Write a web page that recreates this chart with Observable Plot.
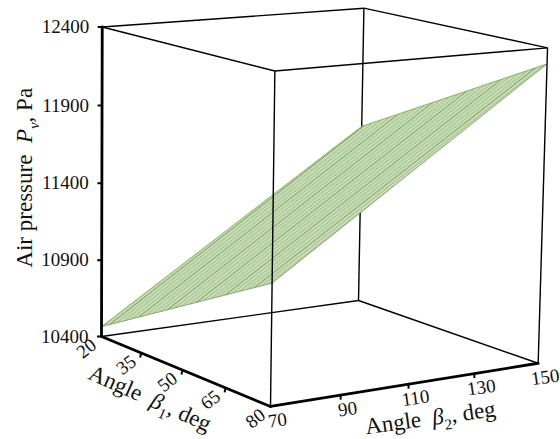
<!DOCTYPE html>
<html>
<head>
<meta charset="utf-8">
<script src="https://cdn.jsdelivr.net/npm/d3@7"></script>
<script src="https://cdn.jsdelivr.net/npm/@observablehq/plot@0.6"></script>
<style>
  html, body { margin: 0; padding: 0; background: #fff; }
  #chart svg { display: block; background: #fff; font-family: "Liberation Serif", "Times New Roman", serif; }
  #chart svg text { font-family: "Liberation Serif", "Times New Roman", serif; }
</style>
</head>
<body>
<div id="chart"></div>
<script>
// ---------------- data ----------------
const beta1Ticks = [20, 35, 50, 65, 80];          // Angle β1, deg
const beta2Ticks = [70, 90, 110, 130, 150];       // Angle β2, deg
const pressureTicks = [10400, 10900, 11400, 11900, 12400]; // Air pressure Pv, Pa

// fitted surface: pressure at the four corners of the (β1, β2) domain
const surfaceBeta1 = [20, 80, 80, 20];
const surfaceBeta2 = [70, 70, 150, 150];
const surfacePressure = [10465, 11145, 12300, 11600];

const yTitleParts = [["Air pressure  ", ""], ["P", "i"], ["v", "isub"], [", Pa", ""]];
const b1TitleParts = [["Angle  ", ""], ["β", "i"], ["1", "sub"], [", deg", ""]];
const b2TitleParts = [["Angle  ", ""], ["β", "i"], ["2", "sub"], [", deg", ""]];

// ---------------- perspective camera ----------------
const W = 560, H = 439;
const cam = {
  o: [101, 336], ex: [147.4, 37.5], ey: [278.5, -18], ez: [-1.2, -310],
  persp: [-0.08, 0.06, -0.019]
};
const nu = d3.scaleLinear().domain(d3.extent(beta1Ticks)).range([0, 1]);
const nv = d3.scaleLinear().domain(d3.extent(beta2Ticks)).range([0, 1]);
const nw = d3.scaleLinear().domain(d3.extent(pressureTicks)).range([0, 1]);
function project(b1, b2, p) {
  const u = nu(b1), v = nv(b2), w = nw(p);
  const s = 1 + cam.persp[0] * u + cam.persp[1] * v + cam.persp[2] * w;
  return [
    (cam.o[0] + cam.ex[0] * u + cam.ey[0] * v + cam.ez[0] * w) / s,
    (cam.o[1] + cam.ex[1] * u + cam.ey[1] * v + cam.ez[1] * w) / s
  ];
}

// ---------------- box edges ----------------
const B1 = d3.extent(beta1Ticks), B2 = d3.extent(beta2Ticks), PZ = d3.extent(pressureTicks);
const corner = (i, j, k) => project(B1[i], B2[j], PZ[k]);
const edges = [];
for (let a = 0; a < 2; a++) for (let b = 0; b < 2; b++) {
  edges.push({from: [0, a, b], to: [1, a, b]});
  edges.push({from: [a, 0, b], to: [a, 1, b]});
  edges.push({from: [a, b, 0], to: [a, b, 1]});
}
const key = e => e.from.join("") + "-" + e.to.join("");
const axisKeys = new Set(["000-001", "000-100", "100-110"]);
const hiddenKeys = new Set(["010-011"]);
edges.forEach(e => {
  const p1 = corner(...e.from), p2 = corner(...e.to);
  e.x1 = p1[0]; e.y1 = p1[1]; e.x2 = p2[0]; e.y2 = p2[1];
  e.kind = axisKeys.has(key(e)) ? "axis" : hiddenKeys.has(key(e)) ? "back" : "front";
});

// ---------------- surface ----------------
const surface = surfaceBeta1.map((b1, i) => {
  const [x, y] = project(b1, surfaceBeta2[i], surfacePressure[i]);
  return {x, y};
});
surface.push(surface[0]);

// ---------------- ticks & labels ----------------
const zTicks = pressureTicks.map(p => { const [x, y] = project(B1[0], B2[0], p); return {x, y, label: String(p)}; });
const b1T = beta1Ticks.map(b => { const [x, y] = project(b, B2[0], PZ[0]); return {x, y, label: String(b), inner: b !== B1[0] && b !== B1[1]}; });
const b2T = beta2Ticks.map(b => { const [x, y] = project(B1[1], b, PZ[0]); return {x, y, label: String(b), inner: b !== B2[0] && b !== B2[1]}; });
const tickLen = 4.5;
const tickMarks = [
  ...zTicks.map(t => ({x1: t.x, y1: t.y, x2: t.x - tickLen, y2: t.y})),
  ...b1T.filter(t => t.inner).map(t => ({x1: t.x, y1: t.y, x2: t.x - 1, y2: t.y + tickLen})),
  ...b2T.filter(t => t.inner).map(t => ({x1: t.x, y1: t.y, x2: t.x, y2: t.y + tickLen}))
];
const mid = (a, b) => [(a[0] + b[0]) / 2, (a[1] + b[1]) / 2];
const zMid = mid(corner(0,0,0), corner(0,0,1));
const b1Mid = mid(corner(0,0,0), corner(1,0,0));
const b2Mid = mid(corner(1,0,0), corner(1,1,0));
const join = parts => parts.map(p => p[0]).join("");

const serif = "Liberation Serif";
const txt = {fontFamily: serif, fill: "#111"};

const plot = Plot.plot({
  width: W, height: H,
  margin: 0,
  x: {domain: [0, W], range: [0, W], axis: null},
  y: {domain: [0, H], range: [0, H], axis: null},
  style: {background: "#fff", overflow: "visible"},
  marks: [
    Plot.link(edges.filter(e => e.kind === "back"), {x1: "x1", y1: "y1", x2: "x2", y2: "y2", stroke: "#000", strokeWidth: 1.4}),
    Plot.line(surface, {x: "x", y: "y", fill: "url(#surfaceHatch)", stroke: "#7a9a60", strokeWidth: 0.8}),
    Plot.link(edges.filter(e => e.kind === "front"), {x1: "x1", y1: "y1", x2: "x2", y2: "y2", stroke: "#000", strokeWidth: 1.4}),
    Plot.link(edges.filter(e => e.kind === "axis"), {x1: "x1", y1: "y1", x2: "x2", y2: "y2", stroke: "#000", strokeWidth: 2.8, strokeLinecap: "round"}),
    Plot.link(tickMarks, {x1: "x1", y1: "y1", x2: "x2", y2: "y2", stroke: "#000", strokeWidth: 2}),
    Plot.text(zTicks, {x: "x", y: "y", text: "label", textAnchor: "end", dx: -13, fontSize: 19, ...txt}),
    Plot.text(b1T, {x: "x", y: "y", text: "label", dx: -15, dy: 12, rotate: -38, fontSize: 19, ...txt}),
    Plot.text(b2T, {x: "x", y: "y", text: "label", dx: 7, dy: 14, rotate: -8, fontSize: 19, ...txt}),
    Plot.text([join(yTitleParts)], {x: () => zMid[0], y: () => zMid[1], text: d => d, dx: -77, dy: -4, rotate: -90, fontSize: 23, ...txt}),
    Plot.text([join(b1TitleParts)], {x: () => b1Mid[0], y: () => b1Mid[1], text: d => d, dx: -36, dy: 27, rotate: 24, fontSize: 23, ...txt}),
    Plot.text([join(b2TitleParts)], {x: () => b2Mid[0], y: () => b2Mid[1], text: d => d, dx: 26, dy: 33, rotate: -8, fontSize: 23, ...txt})
  ]
});

// pattern for the surface mesh texture
const svg = d3.select(plot);
const defs = svg.insert("defs", ":first-child");
const pat = defs.append("pattern")
  .attr("id", "surfaceHatch")
  .attr("patternUnits", "userSpaceOnUse")
  .attr("width", 6).attr("height", 12)
  .attr("patternTransform", "rotate(-38)");
pat.append("rect").attr("width", 6).attr("height", 12).attr("fill", "#c8ddb6");
[1.5, 4.5, 7.5].forEach(y => pat.append("line").attr("x1", 0).attr("x2", 6).attr("y1", y).attr("y2", y).attr("stroke", "#a3c08b").attr("stroke-width", 0.9));
pat.append("line").attr("x1", 0).attr("x2", 6).attr("y1", 10.5).attr("y2", 10.5).attr("stroke", "#84a46a").attr("stroke-width", 1);

// rich-text titles (italic symbols, subscripts)
function richen(parts) {
  const str = join(parts);
  svg.selectAll("text").filter(function() { return this.textContent === str; }).each(function() {
    const t = d3.select(this);
    const fs = parseFloat(t.attr("font-size")) || 22;
    t.text("").style("white-space", "pre");
    let shifted = false;
    parts.forEach(([s, f]) => {
      const ts = t.append("tspan").text(s);
      if (f.includes("i")) ts.attr("font-style", "italic");
      if (f.includes("sub")) {
        ts.attr("font-size", fs * 0.68).attr("dy", fs * 0.3);
        shifted = true;
      } else if (shifted) {
        ts.attr("dy", -fs * 0.3);
        shifted = false;
      }
    });
  });
}
richen(yTitleParts);
richen(b1TitleParts);
richen(b2TitleParts);

document.getElementById("chart").appendChild(plot);
</script>
</body>
</html>
